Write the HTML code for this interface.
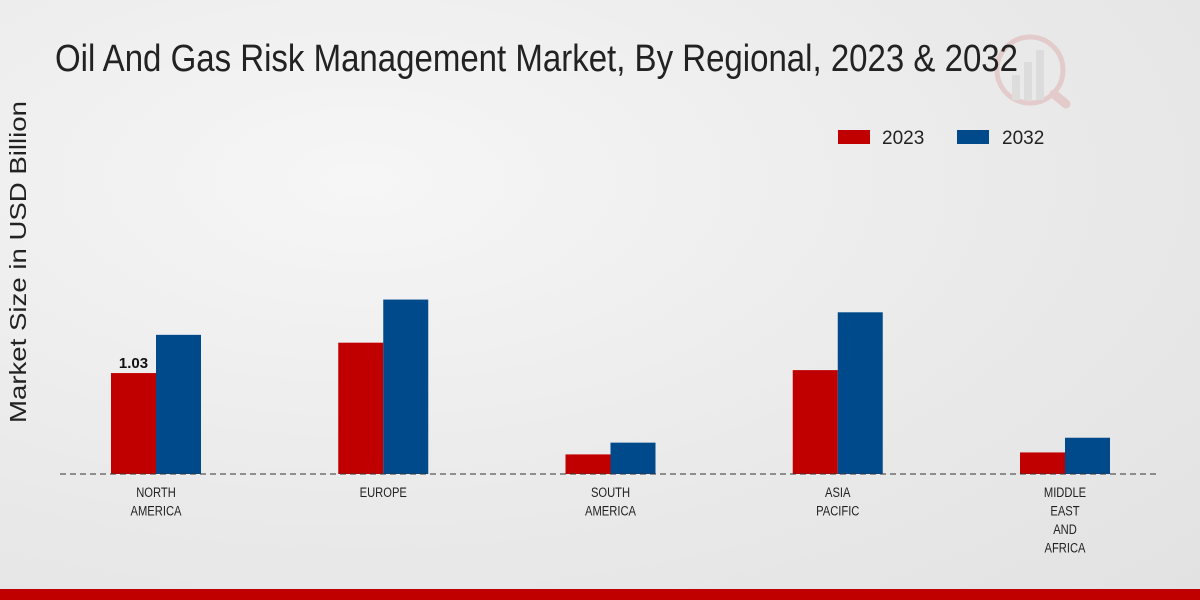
<!DOCTYPE html>
<html><head><meta charset="utf-8"><style>
html,body{margin:0;padding:0;width:1200px;height:600px;overflow:hidden}
body{background:radial-gradient(ellipse at 30% 30%,#f6f6f6 0%,#e9e9e9 60%,#e2e2e2 100%);font-family:"Liberation Sans",sans-serif}
</style></head><body>
<svg id="chart" width="1200" height="600" xmlns="http://www.w3.org/2000/svg">
<g opacity="0.12">
<circle cx="1030" cy="70" r="33" fill="none" stroke="#c00000" stroke-width="5"/>
<line x1="1054" y1="94" x2="1066" y2="104" stroke="#c00000" stroke-width="9" stroke-linecap="round"/>
<rect x="1012" y="75" width="8" height="25" fill="#888"/>
<rect x="1024" y="62" width="8" height="38" fill="#888"/>
<rect x="1036" y="50" width="8" height="50" fill="#888"/>
</g>
<text x="55" y="71" font-family="Liberation Sans, sans-serif" font-size="38" fill="#222" textLength="963" lengthAdjust="spacingAndGlyphs">Oil And Gas Risk Management Market, By Regional, 2023 &amp; 2032</text>
<text transform="translate(26,262) rotate(-90)" text-anchor="middle" font-size="23" fill="#222" textLength="322" lengthAdjust="spacingAndGlyphs">Market Size in USD Billion</text>
<g>
<rect x="838" y="130" width="32" height="14" fill="#c00000"/>
<text x="882" y="144" font-size="19" fill="#222">2023</text>
<rect x="957" y="130" width="32" height="14" fill="#004a8c"/>
<text x="1002" y="144" font-size="19" fill="#222">2032</text>
</g>
<g id="bars"></g>
<line x1="60" y1="474" x2="1160" y2="474" stroke="#333" stroke-dasharray="6,4" stroke-width="1"/>
<g id="xlabels"></g>
<rect x="0" y="589" width="1200" height="11" fill="#c00000"/>
</svg>
<script>
const categories=[["NORTH","AMERICA"],["EUROPE"],["SOUTH","AMERICA"],["ASIA","PACIFIC"],["MIDDLE","EAST","AND","AFRICA"]];
const values2023=[1.03,1.34,0.2,1.06,0.22];
const values2032=[1.42,1.78,0.32,1.65,0.37];
const labelled2023=[true,false,false,false,false];
const NS="http://www.w3.org/2000/svg";
const baseY=474, pxPerUnit=98, x0=156, step=227.25, bw=45;
const yScale=v=>baseY-v*pxPerUnit;
const xCenter=i=>x0+i*step;
const bars=document.getElementById('bars'), xl=document.getElementById('xlabels');
function mk(tag,attrs){const e=document.createElementNS(NS,tag);for(const k in attrs)e.setAttribute(k,attrs[k]);return e;}
categories.forEach((c,i)=>{
  const cx=xCenter(i);
  const r1=mk('rect',{x:cx-bw,y:yScale(values2023[i]),width:bw,height:baseY-yScale(values2023[i]),fill:'#c00000'});
  
  
  bars.appendChild(r1);
  const r2=mk('rect',{x:cx,y:yScale(values2032[i]),width:bw,height:baseY-yScale(values2032[i]),fill:'#004a8c'});
  
  
  bars.appendChild(r2);
  if(labelled2023[i]){
    const t=mk('text',{x:cx-bw/2,y:yScale(values2023[i])-5,'text-anchor':'middle','font-size':'15','font-weight':'bold',fill:'#111'});
    t.textContent=values2023[i].toFixed(2);
    
    
    bars.appendChild(t);
  }
  c.forEach((line,j)=>{
    const t=mk('text',{'text-anchor':'middle','font-size':'14',fill:'#222',transform:'translate('+cx+','+(497+j*18.5)+') scale(0.8,1)'});
    t.textContent=line;
    
    
    xl.appendChild(t);
  });
});
</script>
</body></html>
